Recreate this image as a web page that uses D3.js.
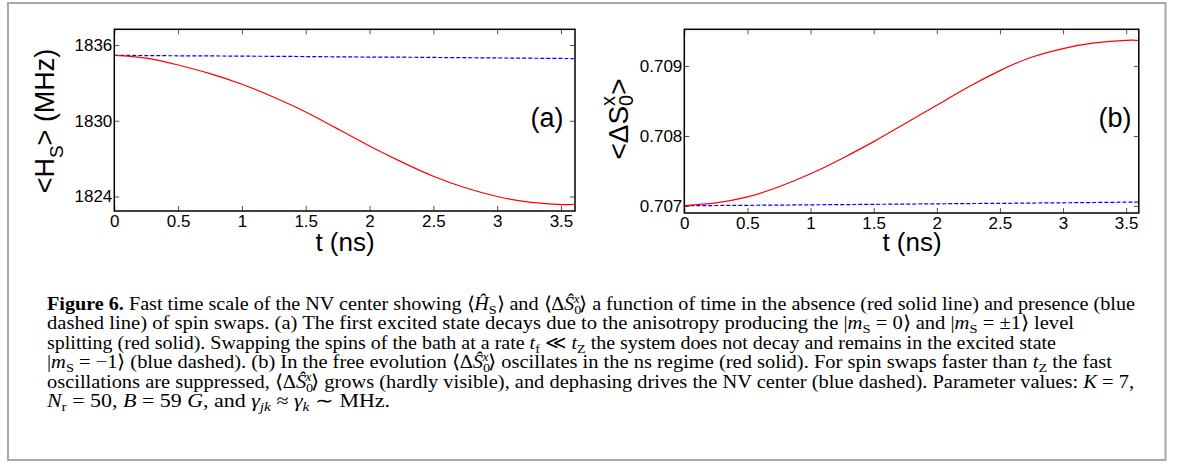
<!DOCTYPE html>
<html>
<head>
<meta charset="utf-8">
<script src="https://cdn.jsdelivr.net/npm/d3@7"></script>
<style>
  html, body { margin: 0; padding: 0; background: #fff; }
  svg { display: block; }
</style>
</head>
<body>
<svg id="fig" width="1177" height="466"></svg>
<script>
// ---------------- data ----------------
const timeNs = [0, 0.25, 0.5, 0.75, 1.0, 1.25, 1.5, 1.75, 2.0, 2.25, 2.5, 2.75, 3.0, 3.25, 3.5, 3.6];
// panel (a): <H_S> in MHz
const hsFree = [1835.18, 1834.97, 1834.42, 1833.74, 1832.90, 1831.87, 1830.70, 1829.36, 1828.00, 1826.74, 1825.60, 1824.69, 1824.00, 1823.56, 1823.36, 1823.38];
const hsSwap = [1835.18, 1835.17, 1835.15, 1835.14, 1835.12, 1835.11, 1835.09, 1835.07, 1835.05, 1835.04, 1835.02, 1835.00, 1834.98, 1834.96, 1834.94, 1834.93];
// panel (b): <ΔS_0^x>
const dsFree = [0.707005, 0.707045, 0.707130, 0.707275, 0.707460, 0.707680, 0.707920, 0.708180, 0.708440, 0.708700, 0.708935, 0.709125, 0.709250, 0.709330, 0.709367, 0.709365];
const dsSwap = [0.707005, 0.707007, 0.707010, 0.707013, 0.707017, 0.707020, 0.707024, 0.707027, 0.707031, 0.707035, 0.707038, 0.707042, 0.707046, 0.707050, 0.707055, 0.707057];
// ticks
const xTicks = [0, 0.5, 1, 1.5, 2, 2.5, 3, 3.5];
const xTickLabels = ["0", "0.5", "1", "1.5", "2", "2.5", "3", "3.5"];
const yTicksA = [1824, 1830, 1836];
const yTickLabelsA = ["1824", "1830", "1836"];
const yTicksB = [0.707, 0.708, 0.709];
const yTickLabelsB = ["0.707", "0.708", "0.709"];

// ---------------- drawing ----------------
const svg = d3.select("#fig");
svg.append("rect").attr("width", 1177).attr("height", 466).attr("fill", "#fff");
// outer figure frame
svg.append("rect").attr("x", 8).attr("y", 3).attr("width", 1157.5).attr("height", 457)
  .attr("fill", "none").attr("stroke", "#a8a8a8").attr("stroke-width", 2);

const SANS = "'Liberation Sans', Arial, Helvetica, sans-serif";

function panel(opts) {
  const g = svg.append("g");
  const x = d3.scaleLinear().domain(opts.xDomain).range([opts.left, opts.right]);
  const y = d3.scaleLinear().domain(opts.yDomain).range([opts.bottom, opts.top]);

  const fmtX = d => xTickLabels[xTicks.indexOf(d)];
  const fmtY = d => opts.yLabels[opts.yTicks.indexOf(d)];

  const gb = g.append("g").attr("transform", `translate(0,${opts.bottom})`)
    .call(d3.axisBottom(x).tickValues(xTicks).tickFormat(fmtX).tickSize(-5).tickPadding(3.5));
  const gl = g.append("g").attr("transform", `translate(${opts.left},0)`)
    .call(d3.axisLeft(y).tickValues(opts.yTicks).tickFormat(fmtY).tickSize(-5).tickPadding(2));
  const gt = g.append("g").attr("transform", `translate(0,${opts.top})`)
    .call(d3.axisTop(x).tickValues(xTicks).tickFormat("").tickSize(-5));
  const gr = g.append("g").attr("transform", `translate(${opts.right},0)`)
    .call(d3.axisRight(y).tickValues(opts.yTicks).tickFormat("").tickSize(-5));
  [gb, gl, gt, gr].forEach(a => {
    a.select(".domain").remove();
    a.selectAll(".tick line").attr("stroke", "#555").attr("stroke-width", 1);
    a.selectAll(".tick text").attr("fill", "#000").style("font-family", SANS).style("font-size", "17px");
  });

  const clipId = "clip" + opts.name;
  svg.append("clipPath").attr("id", clipId).append("rect")
    .attr("x", opts.left).attr("y", opts.top).attr("width", opts.right - opts.left).attr("height", opts.bottom - opts.top);
  const line = (vals) => d3.line().curve(d3.curveNatural)
    .x((d, i) => x(timeNs[i])).y(d => y(d))(vals);
  g.append("path").attr("d", line(opts.swap)).attr("fill", "none")
    .attr("stroke", "#0000ff").attr("stroke-width", 1.2).attr("stroke-dasharray", "4,2")
    .attr("clip-path", `url(#${clipId})`);
  g.append("path").attr("d", line(opts.free)).attr("fill", "none")
    .attr("stroke", "#ff0000").attr("stroke-width", 1.2)
    .attr("clip-path", `url(#${clipId})`);

  g.append("rect").attr("x", opts.left).attr("y", opts.top)
    .attr("width", opts.right - opts.left).attr("height", opts.bottom - opts.top)
    .attr("fill", "none").attr("stroke", "#000").attr("stroke-width", 1.5);

  g.append("text").attr("x", opts.xLabelX).attr("y", 251)
    .attr("text-anchor", "middle").style("font-family", SANS).style("font-size", "26px")
    .text("t (ns)");
  g.append("text").attr("x", opts.tagX).attr("y", 127).attr("text-anchor", "middle")
    .style("font-family", SANS).style("font-size", "27px").text(opts.tag);
  return g;
}

const ga = panel({
  name: "a", left: 114.3, right: 575, top: 29.3, bottom: 211,
  xDomain: [0, 3.61], yDomain: [1822.85, 1837.25],
  yTicks: yTicksA, yLabels: yTickLabelsA, free: hsFree, swap: hsSwap,
  tag: "(a)", tagX: 547, xLabelX: 345
});
const gbp = panel({
  name: "b", left: 684.3, right: 1138.8, top: 29.3, bottom: 213,
  xDomain: [0, 3.6], yDomain: [0.70690, 0.709525],
  yTicks: yTicksB, yLabels: yTickLabelsB, free: dsFree, swap: dsSwap,
  tag: "(b)", tagX: 1115, xLabelX: 912
});

// y labels
const yla = ga.append("text").attr("transform", "translate(54,121) rotate(-90)")
  .attr("text-anchor", "middle").style("font-family", SANS).style("font-size", "27px");
yla.append("tspan").text("<H");
yla.append("tspan").attr("dy", 9).style("font-size", "19px").text("S");
yla.append("tspan").attr("dy", -9).text("> (MHz)");

const ylb = gbp.append("text").attr("transform", "translate(628,119) rotate(-90)")
  .attr("text-anchor", "middle").style("font-family", SANS).style("font-size", "28px");
ylb.append("tspan").text("<ΔS");
ylb.append("tspan").attr("dy", -13).style("font-size", "20px").text("x");
ylb.append("tspan").attr("dy", 18).attr("dx", -10).style("font-size", "20px").text("0");
ylb.append("tspan").attr("dy", -5).text(">");

// ---------------- caption ----------------
const SERIF = "'Liberation Serif', 'Times New Roman', serif";
const capX = 47;
const capBase = [309.5, 329, 348.5, 368, 387.5, 407];
const capEnds = [1135, 1074, 1056, 1112, 1134, 390];
const DS = [["⟨Δ", ""], ["Ŝ", "i"], ["0", "sub"], ["x", "isupback"], ["⟩", "reset"]];
const capLines = [
  [["Figure 6.", "b"], [" Fast time scale of the NV center showing ", ""], ["⟨", ""], ["Ĥ", "i"], ["S", "sub"], ["⟩", "reset"],
   [" and ", ""], ...DS, [" a function of time in the absence (red solid line) and presence (blue", ""]],
  [["dashed line) of spin swaps. (a) The first excited state decays due to the anisotropy producing the |", ""], ["m", "i"], ["S", "sub"],
   [" = 0⟩ and |", "reset"], ["m", "i"], ["S", "sub"], [" = ±1⟩ level", "reset"]],
  [["splitting (red solid). Swapping the spins of the bath at a rate ", ""], ["t", "i"], ["f", "sub"], [" ≪ ", "reset"], ["t", "i"], ["Z", "sub"],
   [" the system does not decay and remains in the excited state", "reset"]],
  [["|", ""], ["m", "i"], ["S", "sub"], [" = −1⟩ (blue dashed). (b) In the free evolution ", "reset"], ...DS,
   [" oscillates in the ns regime (red solid). For spin swaps faster than ", ""], ["t", "i"], ["Z", "sub"], [" the fast", "reset"]],
  [["oscillations are suppressed, ", ""], ...DS, [" grows (hardly visible), and dephasing drives the NV center (blue dashed). Parameter values: ", ""],
   ["K", "i"], [" = 7,", ""]],
  [["N", "i"], ["r", "sub"], [" = 50, ", "reset"], ["B", "i"], [" = 59 ", ""], ["G", "i"], [", and ", ""], ["γ", "i"], ["jk", "isub"],
   [" ≈ ", "reset"], ["γ", "i"], ["k", "isub"], [" ∼ MHz.", "reset"]]
];

capLines.forEach((segs, li) => {
  const t = svg.append("text").attr("x", capX).attr("y", capBase[li])
    .style("font-family", SERIF).style("font-size", "18.5px").attr("fill", "#000")
    .attr("textLength", capEnds[li] - capX).attr("lengthAdjust", "spacingAndGlyphs");
  let shift = 0;
  segs.forEach(([txt, st]) => {
    const sp = t.append("tspan").text(txt);
    let target = 0;
    if (st === "b") sp.style("font-weight", "bold");
    if (st === "i") sp.style("font-style", "italic");
    if (st === "sub" || st === "isub") { target = 4; sp.style("font-size", "13px"); }
    if (st === "isub") sp.style("font-style", "italic");
    if (st === "isupback") { target = -7; sp.style("font-size", "12px").style("font-style", "italic").attr("dx", -7); }
    if (target !== shift) { sp.attr("dy", target - shift); shift = target; }
  });
});
</script>
</body>
</html>
